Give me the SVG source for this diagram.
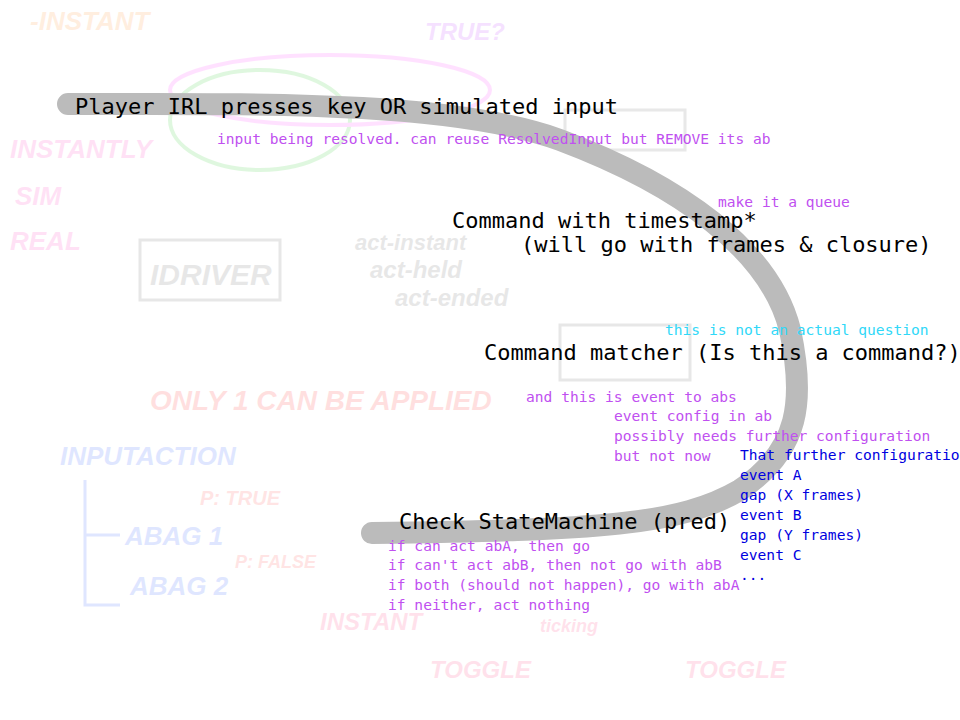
<svg xmlns="http://www.w3.org/2000/svg" width="960" height="720" viewBox="0 0 960 720">
<style>
.m{font-family:"DejaVu Sans Mono","Liberation Mono",monospace;font-size:22px;fill:#000}
.s{font-family:"DejaVu Sans Mono","Liberation Mono",monospace;font-size:14.6px}
.p{fill:#c050f0}.b{fill:#0000e0}.c{fill:#30d8f8}
.bg{font-family:"Liberation Sans",sans-serif;font-weight:bold;font-style:italic}
</style>
<rect width="960" height="720" fill="#fff"/>
<g id="background" opacity="0.15">
<text class="bg" x="30" y="30" font-size="26" fill="#ff9030">-INSTANT</text>
<text class="bg" x="10" y="158" font-size="26" fill="#ff40c0">INSTANTLY</text>
<text class="bg" x="15" y="205" font-size="26" fill="#ff40c0">SIM</text>
<text class="bg" x="10" y="250" font-size="26" fill="#ff40c0">REAL</text>
<rect x="140" y="240" width="140" height="60" fill="none" stroke="#666" stroke-width="3"/>
<text class="bg" x="150" y="285" font-size="30" fill="#666">IDRIVER</text>
<text class="bg" x="355" y="250" font-size="22" fill="#666">act-instant</text>
<text class="bg" x="370" y="278" font-size="24" fill="#666">act-held</text>
<text class="bg" x="395" y="306" font-size="24" fill="#666">act-ended</text>
<text class="bg" x="150" y="410" font-size="28" fill="#ff3030">ONLY 1 CAN BE APPLIED</text>
<text class="bg" x="60" y="465" font-size="26" fill="#3060ff">INPUTACTION</text>
<text class="bg" x="125" y="545" font-size="26" fill="#3060ff">ABAG 1</text>
<text class="bg" x="130" y="595" font-size="26" fill="#3060ff">ABAG 2</text>
<path d="M85 480 V605 H120 M85 535 H120" fill="none" stroke="#3060ff" stroke-width="3"/>
<text class="bg" x="200" y="505" font-size="20" fill="#ff5050">P: TRUE</text>
<text class="bg" x="235" y="568" font-size="18" fill="#ff5050">P: FALSE</text>
<text class="bg" x="425" y="40" font-size="24" fill="#c040ff">TRUE?</text>
<text class="bg" x="320" y="630" font-size="24" fill="#ff4080">INSTANT</text>
<text class="bg" x="430" y="678" font-size="24" fill="#ff4080">TOGGLE</text>
<text class="bg" x="685" y="678" font-size="24" fill="#ff4080">TOGGLE</text>
<text class="bg" x="540" y="632" font-size="18" fill="#ff4080">ticking</text>
<ellipse cx="260" cy="120" rx="90" ry="50" fill="none" stroke="#30d030" stroke-width="4"/>
<ellipse cx="330" cy="90" rx="160" ry="35" fill="none" stroke="#ff40ff" stroke-width="4"/>
<rect x="565" y="110" width="120" height="40" fill="none" stroke="#666" stroke-width="3"/>
<rect x="560" y="325" width="130" height="55" fill="none" stroke="#666" stroke-width="3"/>
</g>
<g id="connectors">
<path d="M68 104 C250 104 450 100 560 140 C680 185 770 250 790 330 C805 400 800 450 740 490 C680 525 600 530 372 533" fill="none" stroke="#bbb" stroke-width="22" stroke-linecap="round"/>
</g>
<g id="n1"><text class="m" x="75" y="114">Player IRL presses key OR simulated input</text>
<text class="s p" x="217" y="144">input being resolved. can reuse ResolvedInput but REMOVE its ab</text></g>
<g id="n2"><text class="s p" x="718" y="207">make it a queue</text>
<text class="m" x="452" y="228">Command with timestamp*</text>
<text class="m" x="521" y="252">(will go with frames &amp; closure)</text></g>
<g id="n3"><text class="s c" x="665" y="335">this is not an actual question</text>
<text class="m" x="484" y="360">Command matcher (Is this a command?)</text>
<text class="s p" x="526" y="402">and this is event to abs</text>
<text class="s p" x="614" y="421">event config in ab</text>
<text class="s p" x="614" y="441">possibly needs further configuration</text>
<text class="s p" x="614" y="461">but not now</text>
<text class="s b" x="740" y="460">That further configuration</text>
<text class="s b" x="740" y="480">event A</text>
<text class="s b" x="740" y="500">gap (X frames)</text>
<text class="s b" x="740" y="520">event B</text>
<text class="s b" x="740" y="540">gap (Y frames)</text>
<text class="s b" x="740" y="560">event C</text>
<text class="s b" x="740" y="580">...</text></g>
<g id="n4"><text class="m" x="399" y="529">Check StateMachine (pred)</text>
<text class="s p" x="388" y="551">if can act abA, then go</text>
<text class="s p" x="388" y="570">if can't act abB, then not go with abB</text>
<text class="s p" x="388" y="590">if both (should not happen), go with abA</text>
<text class="s p" x="388" y="610">if neither, act nothing</text></g>
</svg>
